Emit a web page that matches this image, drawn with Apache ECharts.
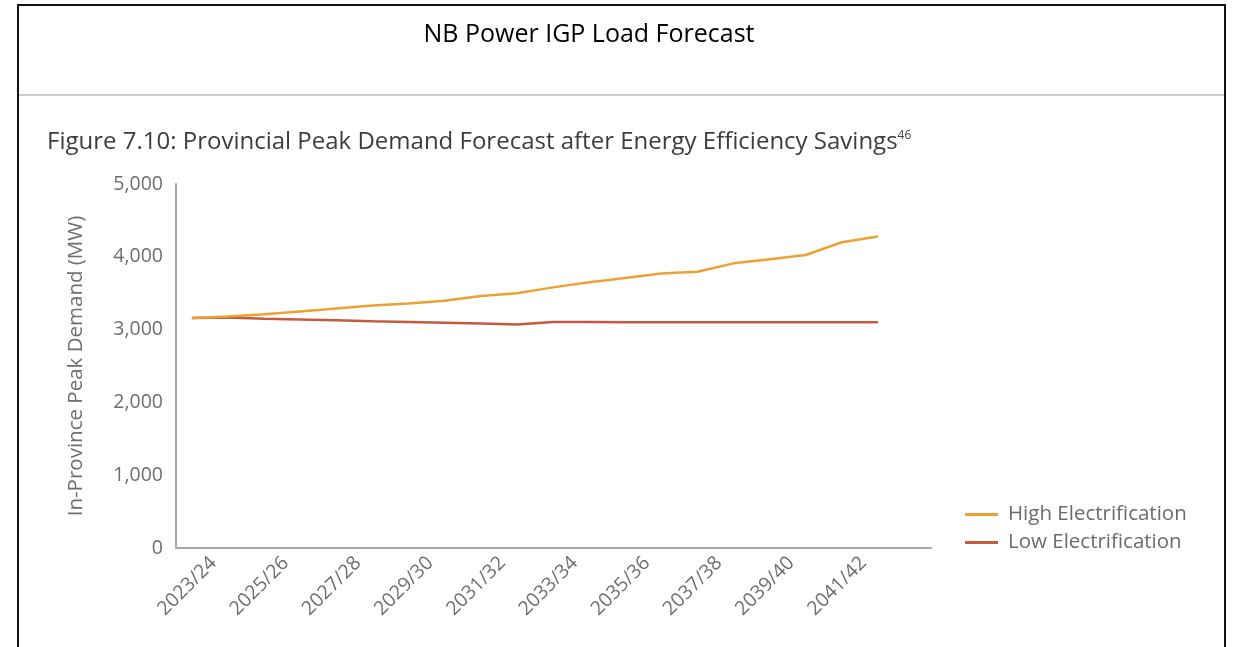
<!DOCTYPE html>
<html>
<head>
<meta charset="utf-8">
<script src="https://cdn.jsdelivr.net/npm/echarts@6/dist/echarts.min.js"></script>
<style>
html,body{margin:0;padding:0;background:#fff;}
#chart{width:1235px;height:647px;}
</style>
</head>
<body>
<div id="chart"></div>
<script>
// ---- data ----
const categories = ['2023/24','2024/25','2025/26','2026/27','2027/28','2028/29','2029/30','2030/31','2031/32','2032/33',
                    '2033/34','2034/35','2035/36','2036/37','2037/38','2038/39','2039/40','2040/41','2041/42','2042/43'];
const highElectrification = [3160,3180,3210,3250,3290,3330,3360,3395,3460,3500,3580,3650,3710,3770,3795,3910,3965,4025,4200,4280];
const lowElectrification  = [3160,3165,3150,3140,3130,3115,3105,3095,3085,3070,3105,3105,3100,3100,3100,3100,3100,3100,3100,3100];
const yTicks = [0,1000,2000,3000,4000,5000];
const labelEvery = 2;
const seriesNames = ['High Electrification','Low Electrification'];

const LABEL_SHIFT = 0.6; // visual offset of rotated category labels
const labelValues = categories.map((c,i)=>i).filter(i=>i%labelEvery===0).map(i=>i+LABEL_SHIFT);
const toPairs = arr => arr.map((v,i)=>[i,v]);

const chart = echarts.init(document.getElementById('chart'), null, {renderer:'canvas'});
const FONT = 'Open Sans';
const option = {
  backgroundColor:'#fff',
  animation:false,
  title:[
    {text:'NB Power IGP Load Forecast', left:584, top:17, textAlign:'center',
     textStyle:{fontFamily:'Open Sans', fontWeight:'normal', fontSize:25, color:'#000'}},
    {text:'Figure 7.10: Provincial Peak Demand Forecast after Energy Efficiency Savings{sup|46}', left:42, top:125,
     textStyle:{fontFamily:FONT, fontWeight:'normal', fontSize:24, color:'#3d3d3d',
       rich:{sup:{fontFamily:FONT, fontSize:12, color:'#3d3d3d', padding:[0,0,13,0]}}}}
  ],
  graphic:[
    {type:'rect', shape:{x:18, y:5, width:1207, height:700}, style:{fill:'none', stroke:'#111', lineWidth:2}, silent:true},
    {type:'line', shape:{x1:19, y1:95, x2:1224, y2:95}, style:{stroke:'#bdbdbd', lineWidth:1.5}, silent:true}
  ],
  legend:{
    data:seriesNames, orient:'vertical', left:960, top:499, itemGap:7,
    icon:'rect', itemWidth:33, itemHeight:3,
    textStyle:{fontFamily:FONT, fontSize:20.5, color:'#6b6b6b', padding:[0,0,0,5]}
  },
  grid:{left:176, right:304, top:184, bottom:99, containLabel:false},
  xAxis:{
    type:'value', min:-0.44, max:20.47,
    axisLine:{show:true, onZero:false, lineStyle:{color:'#a8a8a8', width:2}},
    axisTick:{show:false},
    splitLine:{show:false},
    axisLabel:{
      customValues:labelValues, rotate:45, margin:12,
      fontFamily:FONT, fontSize:19.5, color:'#6e6e6e',
      formatter:v=>categories[Math.round(v-LABEL_SHIFT)] || ''
    }
  },
  yAxis:{
    type:'value', min:0, max:5000, interval:1000,
    name:'In-Province Peak Demand (MW)', nameLocation:'middle', nameGap:89, nameRotate:90,
    nameTextStyle:{fontFamily:FONT, fontSize:20.5, color:'#6e6e6e'},
    axisLine:{show:true, onZero:false, lineStyle:{color:'#a8a8a8', width:2}},
    axisTick:{show:false},
    splitLine:{show:false},
    axisLabel:{fontFamily:FONT, fontSize:19.5, color:'#6e6e6e', margin:13,
      formatter:v=>yTicks.includes(v)? v.toLocaleString('en-US') : ''}
  },
  series:[
    {name:seriesNames[0], type:'line', data:toPairs(highElectrification), showSymbol:false, z:3,
     lineStyle:{color:'#EDA133', width:2.5}, itemStyle:{color:'#EDA133'}},
    {name:seriesNames[1], type:'line', data:toPairs(lowElectrification), showSymbol:false, z:2,
     lineStyle:{color:'#C65A3E', width:2.5}, itemStyle:{color:'#C65A3E'}}
  ]
};
chart.setOption(option);
</script>
</body>
</html>
